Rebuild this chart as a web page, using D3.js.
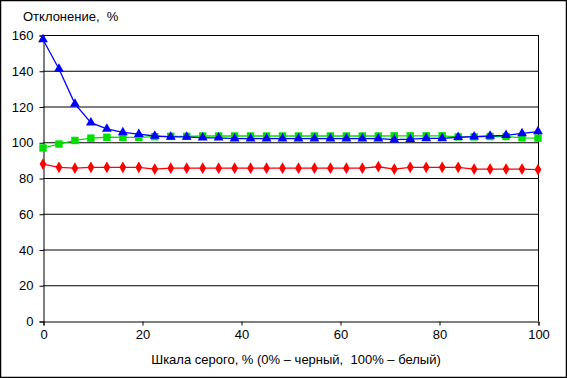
<!DOCTYPE html>
<html><head><meta charset="utf-8">
<script src="https://cdn.jsdelivr.net/npm/d3@7"></script>
<style>body{margin:0;background:#fff}svg{display:block;font-family:"Liberation Sans",Arial,sans-serif}</style>
</head><body><svg id="c" width="567" height="378"></svg>
<script>
const xTicks = [0,20,40,60,80,100];
const yTicks = [0,20,40,60,80,100,120,140,160];
const blueVals = [157.5,141,121.5,111,107.5,105.5,104.5,103.5,103,103,102.5,102.5,102,102,102,102,102,102,102,102,102,102,101.5,101.7,102.2,102.2,102.8,103.1,103.5,103.9,105,106];
const greenVals = [96.8,99,101,102.3,102.8,102.7,102.7,103.1,103.3,103.3,103.5,103.5,103.5,103.5,103.5,103.5,103.5,103.5,103.5,103.5,103.5,103.5,103.6,103.6,103.6,103.6,103,103,103.2,103.2,102.5,102.3];
const redVals = [87.8,86,85.5,86,86,86,86,85,85.5,85.5,85.5,85.5,85.5,85.5,85.5,85.5,85.5,85.5,85.5,85.5,85.5,86.3,85,86,86,86,86,85,85,85,85,84.7];
const nPts = blueVals.length;
const xVals = d3.range(nPts).map(i => i*100/(nPts-1));

const svg = d3.select("#c");
svg.append("rect").attr("x",0.5).attr("y",0.5).attr("width",566).attr("height",377).attr("fill","#fff").attr("stroke","#000").attr("stroke-width",1.5);

const x = d3.scaleLinear().domain([0,100]).range([43,538]);
const y = d3.scaleLinear().domain([0,160]).range([321,35]);

// gridlines
svg.append("g").selectAll("line").data(yTicks.filter(v=>v>0)).join("line")
  .attr("x1",43).attr("x2",538).attr("y1",d=>y(d)+0.5).attr("y2",d=>y(d)+0.5)
  .attr("stroke","#000").attr("stroke-width",1);
// right border
svg.append("line").attr("x1",538.5).attr("x2",538.5).attr("y1",y(160)).attr("y2",y(0)).attr("stroke","#000");

const yAxis = svg.append("g").attr("transform","translate(43.5,0.5)")
  .call(d3.axisLeft(y).tickValues(yTicks).tickSize(4).tickPadding(6));
const xAxis = svg.append("g").attr("transform","translate(0.5,321.5)")
  .call(d3.axisBottom(x).tickValues(xTicks).tickSize(4).tickPadding(4));
[yAxis,xAxis].forEach(a=>{
  a.selectAll("path,line").attr("stroke","#000");
  a.selectAll("text").attr("fill","#000").attr("font-size","13px").attr("font-family","Liberation Sans, Arial, sans-serif");
  a.select(".domain").attr("stroke-width",1);
});

function series(vals,color,shape,size){
  const pts = vals.map((v,i)=>[xVals[i],v]);
  svg.append("path").datum(pts)
    .attr("d",d3.line().x(d=>x(d[0])).y(d=>y(d[1])))
    .attr("fill","none").attr("stroke",color).attr("stroke-width",1.3);
  svg.append("g").selectAll("path").data(pts).join("path")
    .attr("transform",d=>`translate(${x(d[0])},${y(d[1])})`)
    .attr("d",d3.symbol().type(shape).size(size))
    .attr("fill",color);
}
series(greenVals,"#00e000",d3.symbolSquare,55);
series(redVals,"#ff0000",d3.symbolDiamond,40);
series(blueVals,"#0000ff",d3.symbolTriangle,42);

svg.append("text").attr("x",23).attr("y",21).attr("font-size","13px").attr("fill","#000")
  .style("white-space","pre").text("Отклонение,  %");
svg.append("text").attr("x",296).attr("y",364).attr("text-anchor","middle").attr("font-size","13px").attr("fill","#000")
  .style("white-space","pre").text("Шкала серого, % (0% – черный,  100% – белый)");
</script></body></html>
